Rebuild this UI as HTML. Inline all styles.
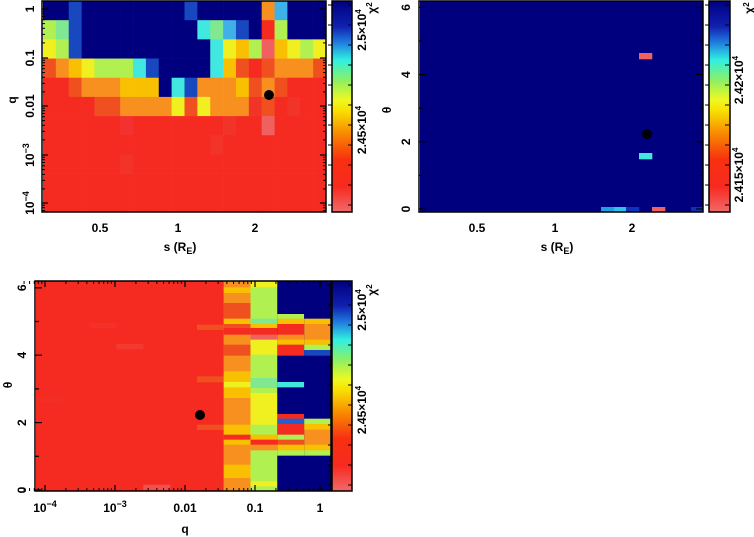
<!DOCTYPE html>
<html><head><meta charset="utf-8"><style>
html,body{margin:0;padding:0;background:#fff;width:754px;height:537px;overflow:hidden}
svg{display:block}
text{font-family:"Liberation Sans",sans-serif;font-weight:bold;font-size:12px;fill:#000}
</style></head><body>
<svg id="s" width="754" height="537" xmlns="http://www.w3.org/2000/svg">
<defs>
<linearGradient id="cb" x1="0" y1="1" x2="0" y2="0">
<stop offset="0" stop-color="#f06a6a"/>
<stop offset="0.12" stop-color="#f82a20"/>
<stop offset="0.25" stop-color="#f83010"/>
<stop offset="0.38" stop-color="#f89000"/>
<stop offset="0.48" stop-color="#f8e000"/>
<stop offset="0.53" stop-color="#f0f820"/>
<stop offset="0.62" stop-color="#90f060"/>
<stop offset="0.72" stop-color="#30f0e0"/>
<stop offset="0.80" stop-color="#2080e0"/>
<stop offset="0.88" stop-color="#1020b0"/>
<stop offset="1" stop-color="#000080"/>
</linearGradient>
</defs>
<g id="g"></g>
</svg>
<script>
var P={N:"#00007f",B:"#1848c0",b:"#2060d0",C:"#40e8e0",c:"#40b0e8",G:"#b0f050",g:"#80e890",Y:"#f0f020",O:"#f8c000",o:"#f89020",r:"#f05020",R:"#f52a20",S:"#f23428",P:"#f06060",T:"#f53030"};
var h="";
function rect(x,y,w,hh,c){h+='<rect x="'+x.toFixed(2)+'" y="'+y.toFixed(2)+'" width="'+(w+0.3).toFixed(2)+'" height="'+(hh+0.3).toFixed(2)+'" fill="'+c+'"/>';}
function line(x1,y1,x2,y2,w){h+='<line x1="'+x1+'" y1="'+y1+'" x2="'+x2+'" y2="'+y2+'" stroke="#000" stroke-width="'+(w||1)+'"/>';}
function txt(x,y,s,rot,extra){h+='<text x="'+x+'" y="'+y+'" text-anchor="middle"'+(rot?' transform="rotate(-90 '+x+' '+y+')"':'')+(extra||'')+'>'+s+'</text>';}
// Panel 1
var rows=["NNBNNNNNNNNBNNNNNocNNN","GgBNNNNNNNNNCgcBNRGNNN","YGBNNNNNNNNNNCYOGPOYGY","roOYGGGCBNNNNCOrRrooor","RRroooOOONCBoooOrorRRR","RRRRrrooooYrYoooSrRSRR","RRRRRRTRRRRRRRSRRPRRRR","RRRRRRRRRRRRRSRRRRRRRR","RRRRRRSRRRRRRRRRRRRRRR","RRRRRRRRRRRRRRRRRRRRRR","RRRRRRRRRRRRRRRRRRRRRR"];
var x0=43,x1=326,y0=1,y1=212,cw=(x1-x0)/22,rh=(y1-y0)/11;
for(var i=0;i<11;i++)for(var j=0;j<22;j++)rect(x0+j*cw,y0+i*rh,cw,rh,P[rows[i][j]]);
// Panel 2
rect(420,1,283,211,P.N);
rect(639,53,13,6,P.P);rect(639,153,13,6,P.C);
rect(601,207,13,5,"#20a0e0");rect(614,207,12,5,"#30c0e8");rect(626,207,13,5,"#1030c0");rect(652,207,13,5,P.P);rect(691,207,12,5,"#1030b0");
// Panel 3
var ax=36,bx=331,ay=281,by=491,cw3=(bx-ax)/11;
rect(ax,ay,cw3*6,by-ay,P.R);
var faint=[[0,0.55,"#f32e25"],[3,0.3,"#f43a30"],[4,0.97,"#f05050"],[2,0.2,"#f3302a"]];
for(var k=0;k<faint.length;k++){rect(ax+faint[k][0]*cw3,ay+faint[k][1]*(by-ay),cw3,5,faint[k][2]);}
function col(ci,segs,base){var x=ax+ci*cw3;rect(x,ay,cw3,by-ay,base);for(var s=0;s<segs.length;s++){var a=278+segs[s][0]/3,b=278+segs[s][1]/3;if(a<ay)a=ay;if(b>by)b=by;rect(x,a,cw3,b-a,P[segs[s][2]]);}}
col(6,[[140,155,"r"],[295,312,"r"],[440,455,"r"]],P.R);
col(7,[[0,28,"o"],[28,45,"O"],[45,75,"o"],[75,90,"r"],[90,122,"r"],[122,138,"O"],[138,150,"r"],[150,170,"R"],[170,200,"o"],[200,233,"r"],[233,280,"o"],[280,312,"O"],[312,328,"Y"],[328,360,"O"],[360,440,"o"],[440,470,"O"],[470,485,"R"],[485,500,"O"],[500,560,"o"],[560,600,"O"],[600,650,"o"]],P.o);
col(8,[[0,28,"Y"],[28,122,"G"],[122,138,"g"],[138,150,"O"],[150,170,"R"],[170,185,"P"],[185,230,"Y"],[230,300,"G"],[300,330,"g"],[330,345,"G"],[345,440,"Y"],[440,470,"G"],[470,485,"O"],[485,500,"R"],[500,517,"o"],[517,610,"G"],[610,625,"Y"],[625,650,"G"]],P.G);
col(9,[[0,108,"N"],[108,122,"G"],[122,138,"O"],[138,170,"R"],[170,185,"o"],[185,200,"O"],[200,233,"R"],[233,312,"N"],[312,328,"C"],[328,408,"N"],[408,422,"R"],[422,438,"b"],[438,470,"R"],[470,485,"G"],[485,500,"r"],[500,517,"O"],[517,533,"G"],[533,650,"N"]],P.N);
col(10,[[0,122,"N"],[122,138,"O"],[138,185,"o"],[185,200,"O"],[200,216,"G"],[216,233,"B"],[233,422,"N"],[422,438,"G"],[438,455,"O"],[455,500,"o"],[500,517,"O"],[517,533,"G"],[533,650,"N"]],P.N);
// dots
h+='<circle cx="269" cy="95" r="5" fill="#000"/><circle cx="647" cy="134" r="5" fill="#000"/><circle cx="200" cy="415" r="5" fill="#000"/>';
// frames + colorbars
function frame(x,y,w,hh){h+='<rect x="'+x+'" y="'+y+'" width="'+w+'" height="'+hh+'" fill="none" stroke="#000" stroke-width="1.5"/>';}
h+='<rect x="332" y="1" width="20" height="211" fill="url(#cb)"/>';frame(332,1,20,211);
h+='<rect x="709" y="1" width="21" height="211" fill="url(#cb)"/>';frame(709,1,21,211);
h+='<rect x="332" y="281" width="20" height="210" fill="url(#cb)"/>';frame(332,281,20,210);
frame(42,1,284,211);frame(419,1,284,211);frame(35,281,296,210);
// colorbar ticks
function cbt(x,ya,yb,n){for(var i=0;i<=n;i++){var y=ya+(yb-ya)*i/n;line(x,y,x-4,y,1);line(x+20,y,x+16,y,1);}}
cbt(332,5,205,10);cbt(709,5,205,10);cbt(332,285,485,10);
// Panel 1 ticks
var qy=[9,58,106,155,203];
for(var i=0;i<qy.length;i++){line(42,qy[i],48,qy[i],1.2);line(326,qy[i],320,qy[i],1.2);}
for(var d=0;d<5;d++)for(var m=2;m<10;m++){var y=qy[Math.min(d,4)]-(Math.log10(m))*48.5;if(d<5){var yy=qy[d]+48.5-Math.log10(m)*48.5; if(yy<212&&yy>1){line(42,yy,45,yy,1);line(326,yy,323,yy,1);}}}
var sx=[[100,"0.5"],[178,"1"],[255,"2"]];
for(var i=0;i<3;i++){txt(sx[i][0],232,sx[i][1]);txt(sx[i][0]+377,232,sx[i][1]);}
txt(30,9,"1",1,' dy="4"');txt(30,58,"0.1",1,' dy="4"');txt(30,106,"0.01",1,' dy="4"');
txt(30,155,'10<tspan dy="-5" font-size="9">−3</tspan>',1,' dy="4"');txt(30,203,'10<tspan dy="-5" font-size="9">−4</tspan>',1,' dy="4"');
txt(12,100,"q",1,' dy="4"');
txt(180,251,'s (R<tspan dy="3" font-size="9">E</tspan><tspan dy="-3">)</tspan>');
txt(557,251,'s (R<tspan dy="3" font-size="9">E</tspan><tspan dy="-3">)</tspan>');
// colorbar labels
txt(362,30,'2.5×10<tspan dy="-5" font-size="8">4</tspan>',1,' dy="4" font-size="10"');
txt(362,130,'2.45×10<tspan dy="-5" font-size="8">4</tspan>',1,' dy="4" font-size="10"');
txt(372,8,'χ<tspan dy="-4" font-size="8">2</tspan>',1,' dy="4" font-size="11"');
txt(739,80,'2.42×10<tspan dy="-5" font-size="8">4</tspan>',1,' dy="4" font-size="10"');
txt(739,175,'2.415×10<tspan dy="-5" font-size="8">4</tspan>',1,' dy="4" font-size="10"');
txt(749,8,'χ<tspan dy="-4" font-size="8">2</tspan>',1,' dy="4" font-size="11"');
txt(362,310,'2.5×10<tspan dy="-5" font-size="8">4</tspan>',1,' dy="4" font-size="10"');
txt(362,410,'2.45×10<tspan dy="-5" font-size="8">4</tspan>',1,' dy="4" font-size="10"');
txt(372,290,'χ<tspan dy="-4" font-size="8">2</tspan>',1,' dy="4" font-size="11"');
// Panel 2 theta ticks
for(var t=0;t<=6;t++){var y=209-t*33.6;line(419,y,t%2==0?426:423,y,1.2);line(703,y,t%2==0?696:699,y,1.2);}
for(var t=0;t<=6;t+=2)txt(406,209-t*33.6,String(t),1,' dy="4"');
txt(387,110,"θ",1,' dy="4"');
// Panel 3 ticks
for(var t=0;t<=6;t++){var y=490-t*33.7;line(35,y,t%2==0?42:39,y,1.2);}
for(var t=0;t<=6;t+=2)txt(22,490-t*33.7,String(t),1,' dy="4"');
txt(8,385,"θ",1,' dy="4"');
var qx=[[45,'10<tspan dy="-5" font-size="9">−4</tspan>'],[115,'10<tspan dy="-5" font-size="9">−3</tspan>'],[185,"0.01"],[255,"0.1"],[320,"1"]];
for(var i=0;i<qx.length;i++){txt(qx[i][0],512,qx[i][1]);line(qx[i][0],491,qx[i][0],485,1.2);line(qx[i][0],281,qx[i][0],287,1.2);
 for(var m=2;m<10;m++){var x=qx[i][0]+Math.log10(m)*69.5;if(x<331){line(x,491,x,488,1);line(x,281,x,284,1);}}}
for(var m=5;m<10;m++){var x=45-69.5+Math.log10(m)*69.5;line(x,491,x,488,1);line(x,281,x,284,1);}
txt(185,533,"q");
document.getElementById("g").innerHTML=h;
</script>
</body></html>
